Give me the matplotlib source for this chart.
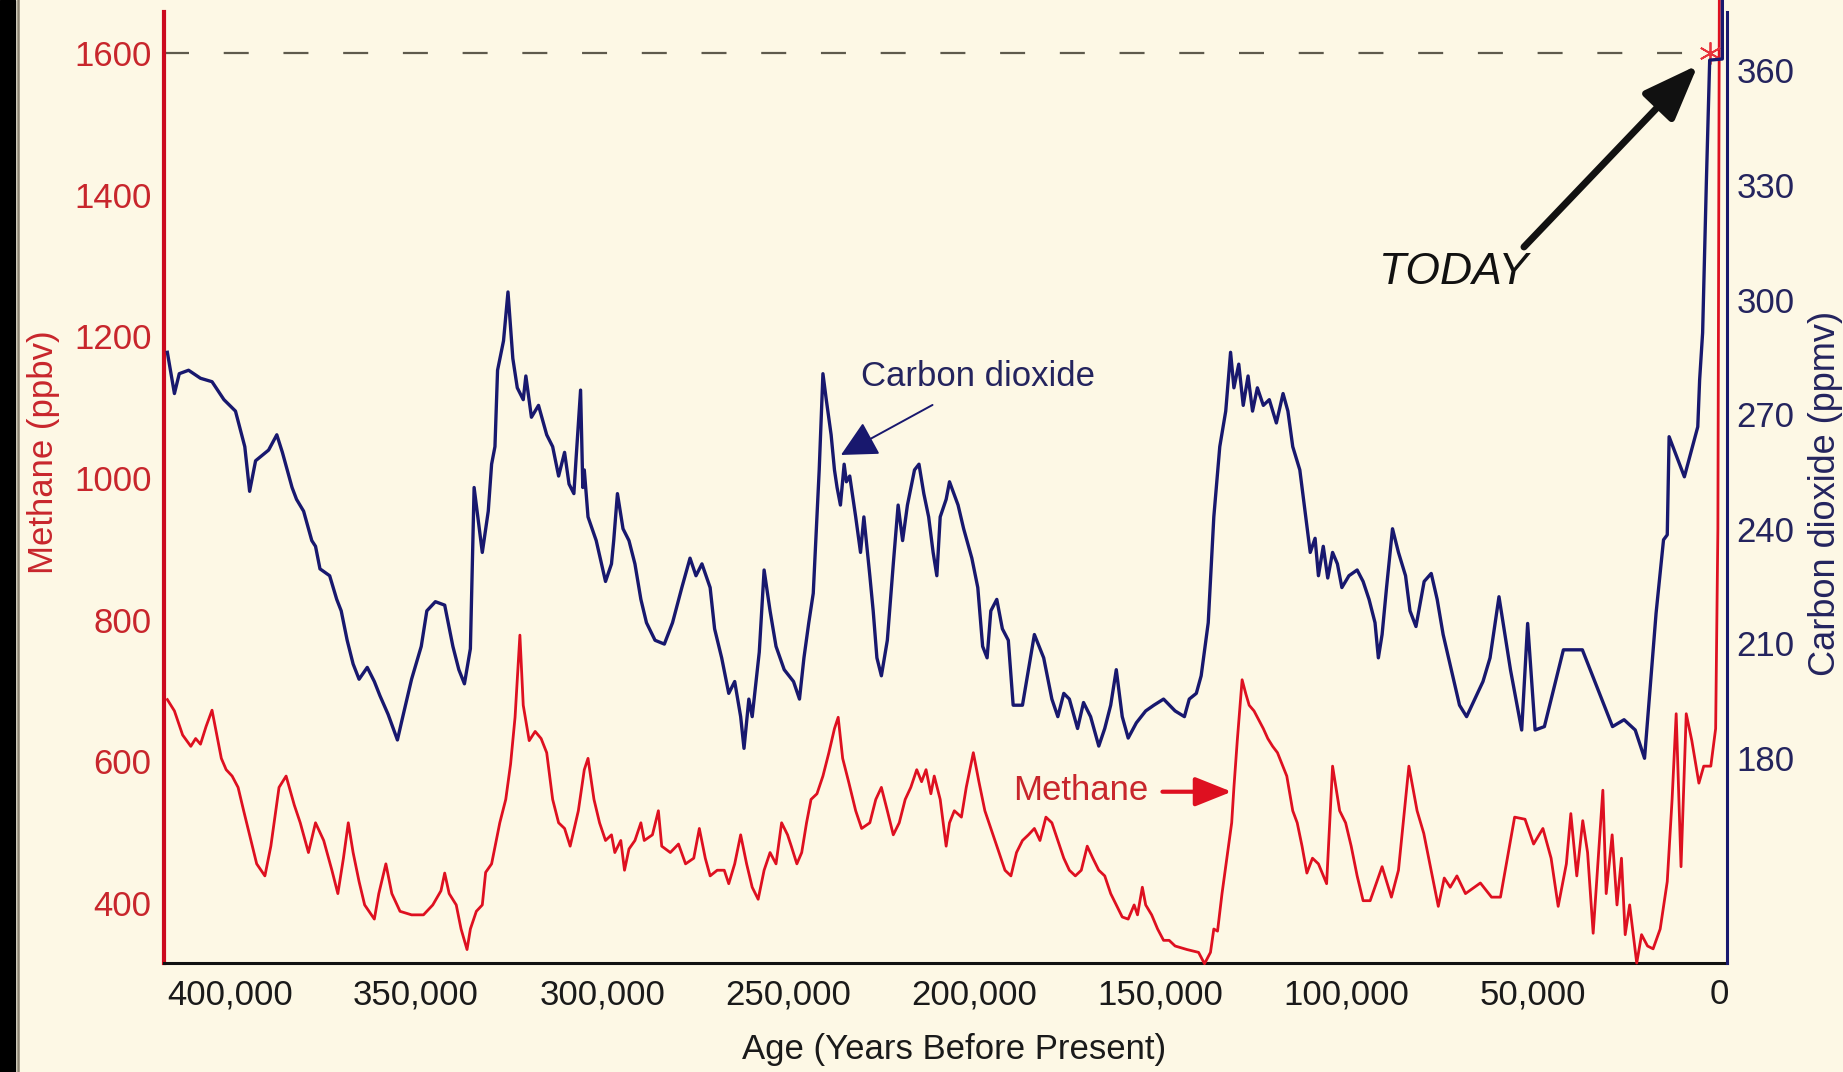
import matplotlib
matplotlib.use("Agg")
import matplotlib.pyplot as plt
from matplotlib.ticker import FuncFormatter, FixedLocator
from matplotlib.patches import Rectangle
from matplotlib.lines import Line2D

plt.rcParams['font.family'] = ['Liberation Sans', 'DejaVu Sans']
plt.rcParams['lines.scale_dashes'] = False

# ---------------- data ----------------
co2_age = [416800, 414900, 413600, 411100, 407900, 404800, 401600, 398500, 396000, 394700,
           393100, 389600, 387400, 385900, 383300, 382100, 380200, 378000, 377000, 375800,
           373200, 371300, 370100, 368500, 366900, 365300, 363100, 361200, 359700, 357500,
           355000, 353700, 351200, 348600, 347100, 344800, 342300, 340100, 338500, 337000,
           335400, 334400, 333200, 332200, 330600, 329700, 328800, 328100, 326500, 325300,
           324000, 322800, 321200, 320500, 319000, 317100, 314900, 313300, 311700, 310100,
           308900, 307600, 307000, 305800, 305200, 304800, 303800, 301600, 299100, 297500,
           296900, 295900, 294400, 292800, 291200, 289600, 288100, 285800, 283300, 281100,
           278600, 276400, 274800, 273200, 271000, 269800, 267900, 266000, 264400, 262800,
           261900, 260600, 259700, 257800, 256500, 254900, 253300, 251100, 248600, 247000,
           245800, 244500, 243300, 241700, 240700, 239800, 238500, 237600, 236900, 236000,
           235000, 234400, 233500, 231900, 230600, 229700, 228100, 227200, 226200, 225000,
           223400, 221800, 220500, 219300, 218000, 216100, 214900, 213600, 212300, 211100,
           210100, 209200, 207600, 206700, 204400, 202900, 200700, 199100, 197800, 196600,
           195600, 194000, 192500, 190900, 189600, 187100, 183900, 181400, 179200, 177600,
           176000, 174500, 172300, 170700, 168800, 166600, 165000, 163400, 161900, 160300,
           158700, 156500, 154000, 151800, 149200, 146100, 143600, 142300, 140400, 139100,
           137200, 135700, 134100, 132500, 131200, 130300, 129000, 127800, 126500, 125300,
           124000, 122400, 120800, 118900, 117100, 115800, 114500, 112600, 111400, 109800,
           108500, 107600, 106300, 105100, 103800, 102500, 101300, 99400, 97200, 95600,
           94000, 92400, 91500, 90500, 89300, 87700, 86100, 84200, 83000, 81400,
           79200, 77300, 75700, 74100, 71900, 69700, 67800, 65600, 63400, 61500,
           59100, 56000, 53000, 51400, 49400, 46900, 41800, 36700, 28600, 25500,
           22500, 20000, 16900, 14900, 13900, 13400, 9300, 5700, 5200, 4400,
           3400, 2500, -900, -900]
co2_ppmv = [286.2, 275.4, 280.6, 281.5, 279.4, 278.5, 273.8, 270.8, 261.5, 249.8,
            257.8, 260.6, 264.6, 260.0, 250.8, 247.7, 244.6, 236.9, 235.4, 229.5,
            227.7, 221.5, 218.5, 210.8, 204.6, 200.6, 203.7, 200.0, 196.3, 191.4,
            184.7, 190.2, 200.6, 209.2, 218.5, 220.9, 220.0, 209.2, 203.1, 199.4,
            208.6, 250.8, 241.5, 233.8, 244.6, 256.9, 261.5, 281.5, 289.2, 302.0,
            284.6, 276.9, 273.8, 280.0, 269.2, 272.3, 264.6, 261.5, 253.8, 260.0,
            251.7, 249.2, 258.5, 276.3, 250.8, 255.4, 243.1, 236.9, 226.2, 230.8,
            236.9, 249.2, 240.0, 236.9, 230.8, 221.5, 215.4, 210.8, 209.8, 215.4,
            224.6, 232.3, 227.7, 230.8, 224.6, 213.8, 206.2, 196.9, 200.0, 190.8,
            182.5, 195.4, 190.8, 207.7, 229.2, 218.5, 209.2, 203.1, 200.0, 195.4,
            206.2, 215.4, 223.1, 255.4, 280.6, 273.8, 264.6, 255.4, 250.8, 246.2,
            256.9, 252.3, 253.8, 243.1, 233.8, 243.1, 227.7, 218.5, 206.2, 201.5,
            210.8, 230.8, 246.2, 236.9, 246.2, 255.4, 256.9, 249.2, 243.1, 233.8,
            227.7, 243.1, 247.7, 252.3, 246.2, 240.0, 232.3, 224.6, 209.2, 206.2,
            218.5, 221.5, 213.8, 210.8, 193.8, 193.8, 212.3, 206.2, 195.4, 190.8,
            196.9, 195.4, 187.7, 194.5, 190.8, 183.1, 187.7, 193.8, 203.1, 190.8,
            185.2, 189.2, 192.3, 193.8, 195.4, 192.3, 190.8, 195.4, 196.9, 201.5,
            215.4, 243.1, 261.5, 270.8, 286.2, 276.9, 283.1, 272.3, 280.0, 270.8,
            276.9, 272.3, 273.8, 267.7, 275.4, 270.8, 261.5, 255.4, 246.2, 233.8,
            237.5, 227.7, 235.4, 227.1, 233.8, 230.8, 224.6, 227.7, 229.2, 226.2,
            221.5, 215.4, 206.2, 212.3, 224.6, 240.0, 233.8, 227.7, 218.5, 214.4,
            226.2, 228.3, 221.5, 212.3, 203.1, 193.8, 190.8, 195.4, 200.0, 206.2,
            222.2, 203.0, 187.3, 215.2, 187.3, 188.2, 208.3, 208.3, 188.2, 190.0,
            187.3, 179.9, 217.9, 237.1, 238.4, 264.1, 253.6, 266.7, 279.0, 291.3,
            330.5, 362.7, 363.0, 385.0]

ch4_age = [416800, 414900, 412700, 410500, 409200, 407900, 406400, 404800, 403500, 402300,
           401000, 399400, 397800, 396300, 394700, 392800, 390600, 389000, 386800, 384900,
           382700, 381100, 378900, 377000, 374800, 372600, 371000, 369500, 368200, 366900,
           365300, 363800, 361200, 360000, 358100, 356500, 354300, 351200, 348000, 345500,
           343300, 342300, 341100, 339200, 337900, 336300, 335400, 333800, 332200, 331300,
           329700, 327500, 325900, 324600, 323400, 322100, 321200, 319600, 318000, 316400,
           314900, 313300, 311700, 310100, 308600, 306400, 304800, 303800, 302200, 300700,
           299100, 297500, 296600, 295000, 294000, 292800, 291200, 289600, 288700, 286500,
           284900, 284000, 281700, 279500, 277600, 275400, 273900, 272300, 271000, 269100,
           267200, 266000, 264400, 262800, 261200, 259700, 258100, 256500, 254900, 253300,
           251800, 250200, 249200, 247700, 246400, 245100, 243900, 242300, 240700, 239100,
           237600, 236600, 235400, 233800, 231900, 230300, 228100, 226500, 225000, 223400,
           221800, 220200, 218600, 217100, 215500, 214200, 213000, 211700, 210800, 209200,
           207600, 206700, 205400, 203500, 202200, 200300, 198800, 197200, 195000, 193400,
           191800, 190200, 188700, 187100, 185500, 183900, 182400, 180800, 179200, 177600,
           176000, 174500, 172900, 171300, 169700, 168200, 166600, 165000, 163400, 161900,
           160300, 158700, 157100, 156200, 154900, 154000, 152400, 150800, 149200, 147700,
           146100, 142900, 139800, 138200, 136600, 135700, 134700, 133500, 132200, 130900,
           130300, 129400, 128100, 127100, 126200, 124900, 123700, 122400, 121200, 119900,
           118600, 117400, 116100, 114500, 113300, 112000, 110700, 109200, 107600, 105400,
           103800, 101900, 100300, 98800, 97200, 95600, 93700, 90500, 88000, 86100,
           83300, 81100, 79300, 75400, 73800, 72200, 70400, 68100, 64100, 61100,
           58700, 54900, 52100, 49800, 47300, 45100, 43200, 41000, 39800, 38200,
           36600, 35300, 33800, 31200, 30300, 28700, 27400, 26200, 25200, 24000,
           22100, 20800, 19200, 17700, 15800, 13900, 12600, 11500, 10200, 8800,
           7300, 5400, 4100, 2200, 900, 300, -100]
ch4_ppbv = [687, 671, 637, 621, 632, 624, 649, 672, 637, 604,
            588, 579, 563, 530, 496, 455, 438, 480, 563, 579,
            538, 513, 471, 513, 488, 446, 413, 463, 513, 471,
            430, 397, 377, 413, 455, 413, 388, 383, 383, 397,
            417, 442, 413, 397, 363, 334, 363, 388, 397, 443,
            455, 513, 546, 596, 662, 778, 679, 629, 642, 632,
            612, 546, 513, 505, 480, 530, 588, 604, 546, 513,
            488, 496, 471, 488, 446, 476, 488, 513, 488, 496,
            530, 480, 471, 483, 455, 463, 505, 463, 438, 446,
            446, 427, 455, 496, 455, 422, 405, 446, 471, 455,
            513, 496, 480, 455, 471, 513, 546, 554, 579, 612,
            646, 662, 604, 571, 530, 505, 513, 546, 563, 530,
            496, 513, 546, 563, 588, 571, 588, 554, 579, 546,
            480, 513, 530, 521, 563, 612, 571, 530, 496, 471,
            446, 438, 471, 488, 496, 505, 488, 521, 513, 488,
            463, 446, 438, 446, 480, 463, 446, 438, 413, 397,
            380, 377, 397, 383, 422, 397, 383, 363, 347, 347,
            339, 334, 330, 314, 330, 363, 360, 413, 463, 513,
            563, 629, 715, 695, 679, 671, 659, 646, 632, 621,
            612, 596, 579, 530, 513, 480, 442, 463, 455, 427,
            593, 530, 513, 480, 438, 403, 403, 451, 408, 446,
            593, 530, 498, 395, 435, 422, 438, 413, 428, 408,
            408, 521, 518, 483, 505, 463, 395, 455, 526, 438,
            516, 471, 357, 559, 413, 496, 397, 463, 355, 397,
            315, 355, 339, 335, 363, 430, 546, 667, 451, 667,
            629, 569, 593, 593, 646, 928, 1700]

today_age = 2500
today_ch4 = 1600

ch4_ticks = [400, 600, 800, 1000, 1200, 1400, 1600]
co2_ticks = [180, 210, 240, 270, 300, 330, 360]
age_ticks = [400000, 350000, 300000, 250000, 200000, 150000, 100000, 50000, 0]

# ---------------- style ----------------
BG = '#FDF8E5'
RED = '#DE1020'
RED_SPINE = '#CC0A1E'
RED_TXT = '#C8262C'
NAVY = '#18186E'
NAVY_TXT = '#24245E'
FS = 25

W, H = 1843, 1072
fig = plt.figure(figsize=(W / 100, H / 100), dpi=100)
fig.patch.set_facecolor(BG)

L, R, B, T = 164, 1727, 963, 12
ax = fig.add_axes([L / W, (H - B) / H, (R - L) / W, (B - T) / H])
ax.set_facecolor(BG)
ax2 = ax.twinx()

ax.set_xlim(417700, -2150)
ax.set_ylim(315, 1658)
ax2.set_ylim(126.3, 375.3)

# lines
ax.plot(ch4_age, ch4_ppbv, color=RED, lw=2.0, zorder=3, clip_on=False)
ax2.plot(co2_age, co2_ppmv, color=NAVY, lw=2.4, zorder=3, clip_on=False)

# reference line at today's methane level and "today" marker
ax.hlines(today_ch4, ax.get_xlim()[0], today_age, colors='#5E5A4C', lw=1.6,
          linestyles=(0, (18, 25)), zorder=2)
ax.plot([today_age], [today_ch4], marker=(6, 2, 0), ms=16, mew=1.3,
        color='#E8333C', zorder=5, clip_on=False)

# spines
for s in ['top', 'right']:
    ax.spines[s].set_visible(False)
ax.spines['left'].set_color(RED_SPINE)
ax.spines['left'].set_linewidth(3.0)
ax.spines['bottom'].set_color('#111111')
ax.spines['bottom'].set_linewidth(2.2)
for s in ['top', 'left', 'bottom']:
    ax2.spines[s].set_visible(False)
ax2.spines['right'].set_color(NAVY)
ax2.spines['right'].set_linewidth(2.2)

# ticks
ax.xaxis.set_major_locator(FixedLocator(age_ticks))
ax.xaxis.set_major_formatter(FuncFormatter(lambda v, p: f"{int(round(v)):,}"))
ax.yaxis.set_major_locator(FixedLocator(ch4_ticks))
ax2.yaxis.set_major_locator(FixedLocator(co2_ticks))
ax.tick_params(axis='x', length=0, pad=11, labelsize=FS, labelcolor='#1A1A1A')
ax.tick_params(axis='y', length=0, pad=9, labelsize=FS, labelcolor=RED_TXT)
ax2.tick_params(axis='y', length=0, pad=7, labelsize=FS, labelcolor=NAVY_TXT)

# axis labels
ax.set_ylabel('Methane (ppbv)', color=RED_TXT, fontsize=FS, va='center', ha='center')
ax.yaxis.set_label_coords(-0.0774, 0.537)
ax2.set_ylabel('Carbon dioxide (ppmv)', color=NAVY_TXT, fontsize=26, va='center',
               ha='center', rotation=90)
ax2.yaxis.set_label_coords(1.063, 0.4935)
ax.set_xlabel('Age (Years Before Present)', color='#1A1A1A', fontsize=FS, va='center')
ax.xaxis.set_label_coords(0.5057, -0.091)

# annotations
ax.text(0.446, 0.6165, 'Carbon dioxide', transform=ax.transAxes, color=NAVY_TXT,
        fontsize=FS, ha='left', va='center')
ax.annotate('', xy=(0.4331, 0.5342), xytext=(0.4917, 0.5868),
            xycoords='axes fraction', textcoords='axes fraction',
            arrowprops=dict(arrowstyle='-|>,head_length=0.75,head_width=0.38',
                            mutation_scale=30, lw=1.4, color=NAVY,
                            shrinkA=0, shrinkB=0))

ax.text(0.5432, 0.1809, 'Methane', transform=ax.transAxes, color=RED_TXT,
        fontsize=FS, ha='left', va='center')
ax.annotate('', xy=(0.6831, 0.1801), xytext=(0.6388, 0.1801),
            xycoords='axes fraction', textcoords='axes fraction',
            arrowprops=dict(arrowstyle='-|>,head_length=0.75,head_width=0.3',
                            mutation_scale=30, lw=3, color=RED,
                            shrinkA=0, shrinkB=0))

ax.text(0.7774, 0.7259, 'TODAY', transform=ax.transAxes, color='#111111',
        fontsize=32, style='italic', ha='left', va='center')
ax.annotate('', xy=(0.9814, 0.9443), xytext=(0.8701, 0.7529),
            xycoords='axes fraction', textcoords='axes fraction',
            arrowprops=dict(arrowstyle='-|>,head_length=0.68,head_width=0.26',
                            mutation_scale=50, lw=5, color='#111111',
                            shrinkA=0, shrinkB=0))

# frame decoration on the left edge
fig.add_artist(Rectangle((0, 0), 15 / W, 1, transform=fig.transFigure,
                         color='black', zorder=0))
fig.add_artist(Line2D([18 / W, 18 / W], [0, 1], transform=fig.transFigure,
                      color='#8C8472', lw=1.8))

fig.savefig('out.png', dpi=100, facecolor=BG)
